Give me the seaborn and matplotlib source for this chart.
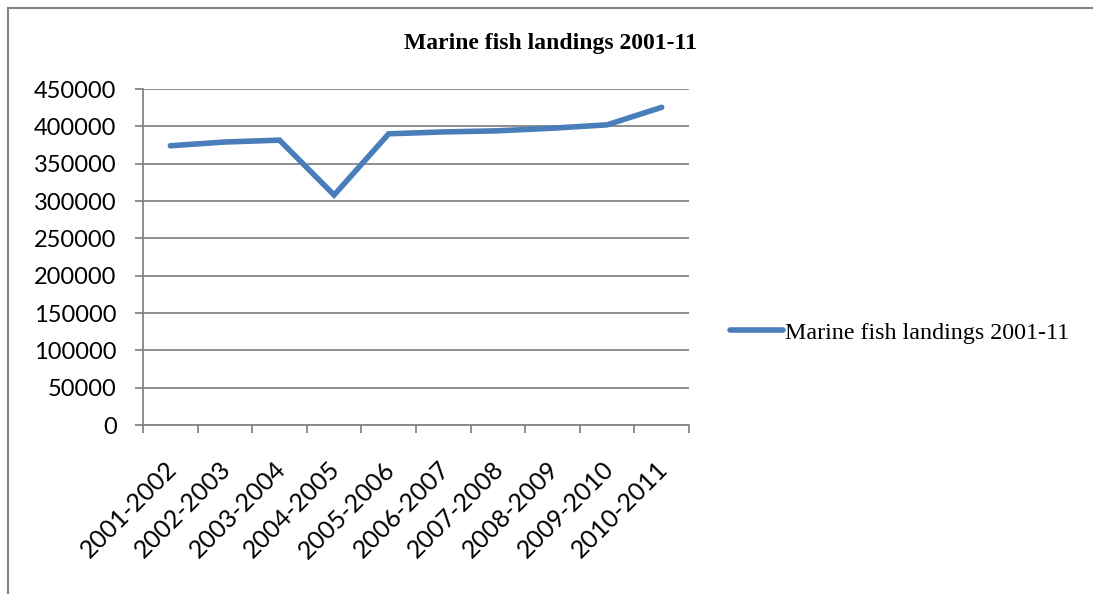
import matplotlib
matplotlib.use("Agg")
import matplotlib.pyplot as plt
from matplotlib.patches import Rectangle
from matplotlib.ticker import FixedLocator, MultipleLocator
from matplotlib.transforms import ScaledTranslation
import seaborn as sns
import pandas as pd

# Marine fish landings by season (tonnes)
seasons = ["2001-2002", "2002-2003", "2003-2004", "2004-2005", "2005-2006",
           "2006-2007", "2007-2008", "2008-2009", "2009-2010", "2010-2011"]
landings = [374000, 379000, 381500, 308000, 390000,
            392500, 394000, 397500, 402000, 425500]
series_name = "Marine fish landings 2001-11"

df = pd.DataFrame({"season": seasons, "landings": landings, "series": series_name})

sns.set_style("white")
plt.rcParams["font.family"] = ["Lato", "DejaVu Sans"]
plt.rcParams["text.color"] = "black"
plt.rcParams["xtick.labelcolor"] = "black"
plt.rcParams["ytick.labelcolor"] = "black"

fig = plt.figure(figsize=(10.93, 5.94), dpi=100)
ax = fig.add_axes([143 / 1093, 1 - 425 / 594, (689 - 143) / 1093, (425 - 89) / 594])

line_color = "#4a7ebb"
sns.lineplot(data=df, x="season", y="landings", hue="series",
             palette=[line_color], linewidth=4, ax=ax, sort=False,
             solid_capstyle="round", solid_joinstyle="miter")

ax.set_xlim(-0.5, len(seasons) - 0.5)
ax.set_ylim(0, 450000)
ax.yaxis.set_major_locator(MultipleLocator(50000))
ax.set_yticklabels([f"{int(v)}" for v in ax.get_yticks()])

grey = "#868686"
ax.grid(axis="y", color=grey, linewidth=1.3)
ax.grid(axis="x", visible=False)
ax.set_axisbelow(True)
for side in ["top", "right"]:
    ax.spines[side].set_visible(False)
for side in ["left", "bottom"]:
    ax.spines[side].set_color(grey)
    ax.spines[side].set_linewidth(1.3)

# category boundary tick marks on the x axis, labels at category centres
ax.xaxis.set_minor_locator(FixedLocator([i - 0.5 for i in range(len(seasons) + 1)]))
ax.tick_params(axis="x", which="both", bottom=True)
ax.tick_params(axis="x", which="minor", length=6, width=1.3, color=grey, direction="out")
ax.tick_params(axis="x", which="major", length=0, pad=22, labelsize=18, labelcolor="black")
ax.tick_params(axis="y", which="major", left=True, length=6, width=1.3, color=grey,
               direction="out", pad=13, labelsize=17, labelcolor="black")
shift = ScaledTranslation(0.025, -0.10, fig.dpi_scale_trans)
for lbl in ax.get_xticklabels():
    lbl.set_rotation(45)
    lbl.set_ha("right")
    lbl.set_va("center")
    lbl.set_rotation_mode("anchor")
    lbl.set_transform(lbl.get_transform() + shift)

ax.set_xlabel("")
ax.set_ylabel("")

fig.text(551 / 1093, 1 - 43 / 594, series_name, ha="center", va="center",
         fontsize=17, fontweight="bold", family="Liberation Serif", color="black")

leg = ax.legend(loc="center left", bbox_to_anchor=(1.035, 0.275), frameon=False,
                prop={"family": "Liberation Serif", "size": 17.3},
                handlelength=2.2, handletextpad=0.12)
for h in leg.get_lines():
    h.set_linewidth(4)
for t in leg.get_texts():
    t.set_color("black")

# outer chart frame
fig.patches.append(Rectangle((8 / 1093, -0.5), 2, 0.5 + 1 - 8 / 594,
                             transform=fig.transFigure, fill=False,
                             edgecolor=grey, linewidth=1.5, zorder=0))

fig.savefig("out.png", dpi=100, facecolor="white")
